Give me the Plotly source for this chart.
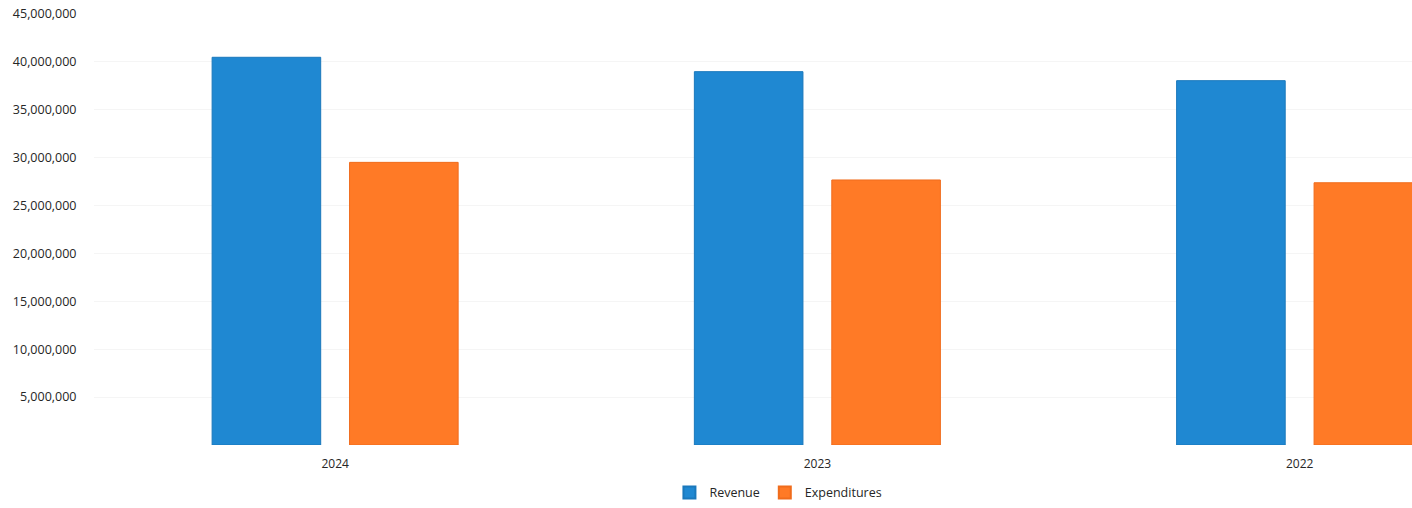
import plotly.graph_objects as go

years = ["2024", "2023", "2022"]
revenue = [40480000, 38980000, 38040000]
expenditures = [29510000, 27670000, 27380000]
y_ticks = [5000000, 10000000, 15000000, 20000000, 25000000, 30000000, 35000000, 40000000, 45000000]
y_tick_labels = [f"{v:,}" for v in y_ticks]

blue = "#1F88D2"
orange = "#FF7A26"
font_family = "Open Sans, Liberation Sans, sans-serif"

fig = go.Figure()
fig.add_trace(go.Bar(name="Revenue", x=years, y=revenue,
                     marker=dict(color=blue, line=dict(color="#1A78BC", width=1))))
fig.add_trace(go.Bar(name="Expenditures", x=years, y=expenditures,
                     marker=dict(color=orange, line=dict(color="#F06C1C", width=1))))

fig.update_layout(
    width=1412, height=508,
    margin=dict(l=94, r=0, t=14, b=63),
    paper_bgcolor="white", plot_bgcolor="white",
    barmode="group", bargap=0.43, bargroupgap=0.21,
    font=dict(family=font_family, size=12, color="#262626"),
    showlegend=True,
    legend=dict(orientation="h", x=0.4366, xanchor="left", y=-0.111, yanchor="middle",
                font=dict(size=12.5, color="#262626"), itemwidth=30,
                itemsizing="constant", bgcolor="rgba(0,0,0,0)"),
)
fig.update_xaxes(type="category", range=[-0.5, 2.233], showgrid=False, showline=False,
                 zeroline=False, ticks="outside", ticklen=8, tickcolor="rgba(0,0,0,0)",
                 tickfont=dict(size=12, color="#262626"))
fig.update_yaxes(range=[0, 45000000], tickvals=y_ticks, ticktext=y_tick_labels,
                 showgrid=True, gridcolor="#F5F5F5", gridwidth=1, zeroline=False,
                 showline=False, ticks="outside", ticklen=14, tickcolor="rgba(0,0,0,0)",
                 ticklabeloverflow="allow",
                 tickfont=dict(size=12.5, color="#262626"))

fig.write_html("out.html",
               config={"displayModeBar": False},
               post_script="document.body.style.margin='0';document.body.style.overflow='hidden';")
